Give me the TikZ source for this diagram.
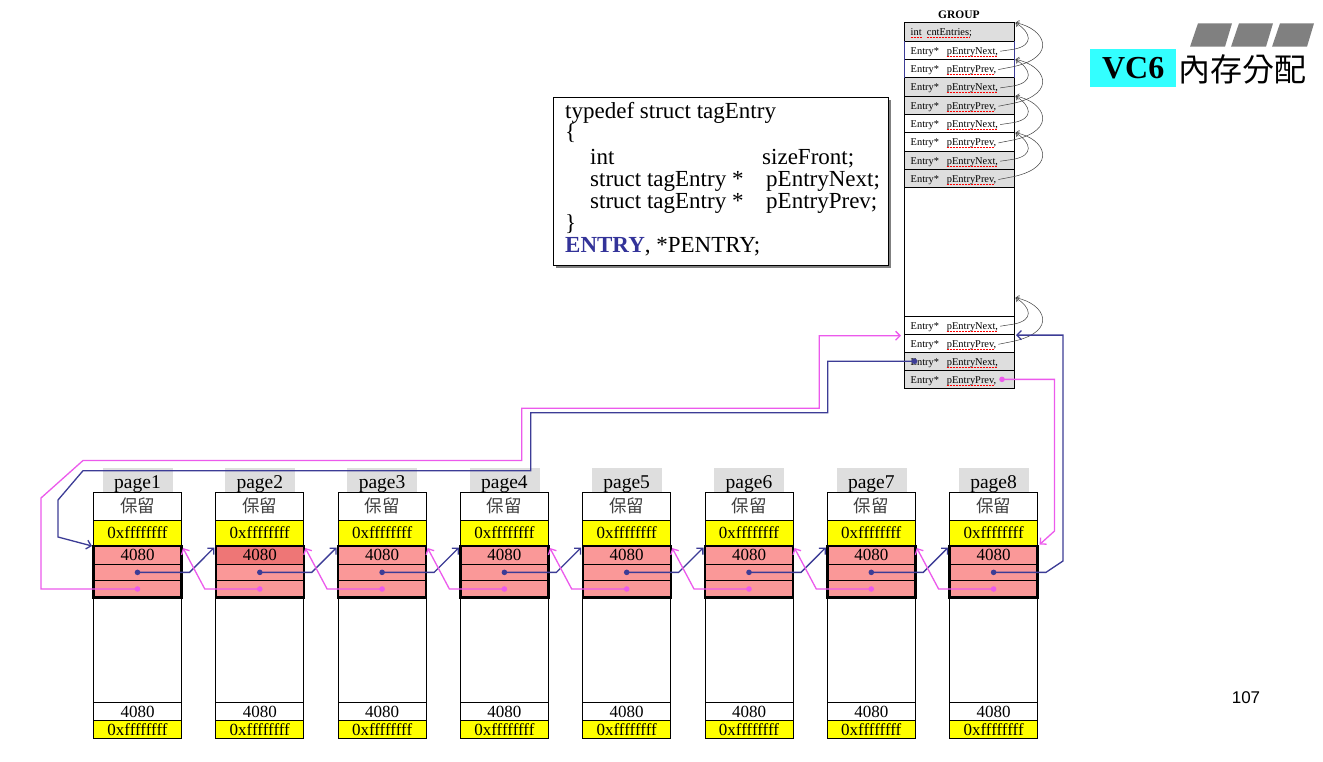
\documentclass[tikz,border=0pt]{standalone}
\usepackage{fontspec}
\setmainfont{Liberation Serif}
\newfontfamily\cjk{Noto Sans CJK TC}
\newfontfamily\sansf{Liberation Sans}
\usetikzlibrary{arrows.meta,calc}
\definecolor{pinkfill}{RGB}{250,152,152}
\definecolor{pinkdark}{RGB}{238,118,118}
\definecolor{yel}{RGB}{255,255,0}
\definecolor{lgray}{RGB}{222,222,222}
\definecolor{lblue}{RGB}{60,60,150}
\definecolor{lpink}{RGB}{236,90,236}
\definecolor{titlecyan}{RGB}{51,255,255}
\definecolor{slab}{RGB}{128,128,128}
\definecolor{wordblue}{RGB}{51,51,153}
\begin{document}
\begin{tikzpicture}[x=1pt,y=-1pt,
  fsz/.style={font=\fontsize{#1}{#1}\selectfont},
  cell/.style={draw=black, line width=0.8pt, minimum width=88pt, inner sep=0pt, outer sep=0pt, anchor=north west},
  grpcell/.style={draw=black, line width=0.8pt, minimum width=110pt, inner sep=0pt, outer sep=0pt, anchor=north west},
  gtxt/.style={inner sep=0pt, anchor=base west, fsz=10.4},
  code/.style={inner sep=0pt, anchor=base west, fsz=23},
  ul/.style={red, densely dotted, line width=0.5pt},
  bluel/.style={draw=lblue, line width=1.3pt},
  pinkl/.style={draw=lpink, line width=1.3pt},
  arrowend/.style={-{Straight Barb[length=4.5pt,width=9pt]}},
  loopc/.style={draw=black!75, line width=0.5pt, -{Straight Barb[length=3pt,width=6pt]}}]
\useasboundingbox (0,0) rectangle (1323,761);
\fill[white] (0,0) rectangle (1323,761);

% ---------- title ----------
\fill[slab] (1190,46.7) -- (1225,46.7) -- (1232,23.3) -- (1198,23.3) -- cycle;
\fill[slab] (1231,46.7) -- (1266,46.7) -- (1273,23.3) -- (1239,23.3) -- cycle;
\fill[slab] (1272,46.7) -- (1307,46.7) -- (1314,23.3) -- (1280,23.3) -- cycle;
\node[fill=titlecyan, minimum width=86pt, minimum height=38.4pt, anchor=north west, inner sep=0pt] (titlebox) at (1090,48.3) {};
\node[font=\bfseries\fontsize{32}{32}\selectfont, inner sep=0pt] (vc6) at (titlebox.center) {VC6};
\node[font={\cjk\fontsize{32}{32}\selectfont}, anchor=west, inner sep=0pt] (ttl) at (1178,69) {內存分配};
\node[font={\sansf\fontsize{17}{17}\selectfont}, inner sep=0pt] (pnum) at (1246,698) {107};

% ---------- code box ----------
\fill[gray] (556,100) rectangle (891,268);
\node[draw, fill=white, line width=1pt, minimum width=335pt, minimum height=168pt, anchor=north west, inner sep=0pt] (codebox) at (553,97) {};
\node[code] (c1) at (565,118.5) {typedef struct tagEntry};
\node[code] (c2) at (565,139) {\{};
\node[code] (c3a) at (590,164) {int};
\node[code] (c3b) at (762,164) {sizeFront;};
\node[code] (c4a) at (590,186) {struct tagEntry *};
\node[code] (c4b) at (766,186) {pEntryNext;};
\node[code] (c5a) at (590,208) {struct tagEntry *};
\node[code] (c5b) at (766,208) {pEntryPrev;};
\node[code] (c6) at (565,230) {\}};
\node[code] (c7) at (565,252) {\textbf{\color{wordblue}ENTRY}, *PENTRY;};

% ---------- GROUP ----------
\node[font=\bfseries\fontsize{11.5}{11.5}\selectfont, inner sep=0pt] (grouplabel) at (959,15) {GROUP};
\foreach \r/\ty/\wa/\wb/\wx/\fl/\hh in {
  1/22.70/int/{cntEntries;}/926.7/lgray/18.33,
  2/41.03/Entry*/{pEntryNext,}/946.7/white/18.33,
  3/59.36/Entry*/{pEntryPrev,}/946.7/white/18.33,
  4/77.69/Entry*/{pEntryNext,}/946.7/lgray/18.33,
  5/96.02/Entry*/{pEntryPrev,}/946.7/lgray/18.33,
  6/114.35/Entry*/{pEntryNext,}/946.7/white/18.33,
  7/132.68/Entry*/{pEntryPrev,}/946.7/white/18.33,
  8/151.01/Entry*/{pEntryNext,}/946.7/lgray/18.33,
  9/169.34/Entry*/{pEntryPrev,}/946.7/lgray/18.33,
  10/316.0/Entry*/{pEntryNext,}/946.7/white/18.1,
  11/334.1/Entry*/{pEntryPrev,}/946.7/white/18.1,
  12/352.2/Entry*/{pEntryNext,}/946.7/lgray/18.1,
  13/370.3/Entry*/{pEntryPrev,}/946.7/lgray/18.1} {
  \node[grpcell, fill=\fl, minimum height=\hh pt] (g\r) at (904,\ty) {};
  \node[gtxt] (ga\r) at (910.5,\ty+13.2) {\wa};
  \node[gtxt] (gb\r) at (\wx,\ty+13.2) {\wb};
  \draw[ul] ([yshift=-1.8pt]gb\r.base west) -- ([yshift=-1.8pt,xshift=-2pt]gb\r.base east);
}
\draw[ul] ([yshift=-1.8pt]ga1.base west) -- ([yshift=-1.8pt]ga1.base east);
\node[draw, line width=0.8pt, minimum width=110pt, minimum height=128.33pt, anchor=north west, inner sep=0pt, outer sep=0pt] (gblank) at (904,187.67) {};
\draw[lblue, line width=1pt] (g2.north west) -- (g3.south west);
\draw[lblue, line width=1pt] (g2.north east) -- (g3.south east);

% self-pointing loops
\foreach \n/\p/\t in {2/3/1, 4/5/3, 6/7/5, 8/9/7} {
  \coordinate (tip\n) at ([xshift=1.5pt]g\t.north east);
  \draw[loopc] ($(gb\n.base east)+(2,-3)$) -- ([yshift=1pt]g\n.east) .. controls +(20,-4) and +(16,10) .. (tip\n);
  \draw[loopc] ($(gb\p.base east)+(2,-3)$) -- ([yshift=2pt]g\p.east) .. controls +(44,-10) and +(30,6) .. (tip\n);
}
\coordinate (btip) at ([xshift=1.5pt,yshift=18.3pt]g10.north east);
\draw[loopc] ($(gb10.base east)+(2,-3)$) -- ([yshift=1pt]g10.east) .. controls +(20,-4) and +(16,10) .. (btip);
\draw[loopc] ($(gb11.base east)+(2,-3)$) -- ([yshift=2pt]g11.east) .. controls +(44,-10) and +(30,6) .. (btip);

% ---------- pages ----------
\foreach \i in {1,...,8} {
  \pgfmathsetmacro\pgx{93.5+(\i-1)*122.3}
  \def\rafill{pinkfill}
  \ifnum\i=2 \def\rafill{pinkdark}\fi
  \node[fill=lgray, minimum width=70pt, minimum height=25.5pt, inner sep=0pt, anchor=north west] (lab\i) at (\pgx+9,467.3) {};
  \node[fsz=19.5, inner sep=0pt, anchor=base] (labt\i) at (\pgx+44,488.5) {page\i};
  \node[cell, minimum height=27.3pt, fsz=17.5, text=darkgray] (res\i) at (\pgx,492.7) {\cjk 保留};
  \node[cell, minimum height=26pt, fill=yel, fsz=17] (ff\i) at (\pgx,520) {0xffffffff};
  \node[cell, minimum height=18pt, fill=\rafill, fsz=17] (ra\i) at (\pgx,546) {4080};
  \node[cell, minimum height=16.7pt, fill=pinkfill] (rb\i) at (\pgx,564) {};
  \node[cell, minimum height=16.6pt, fill=pinkfill] (rc\i) at (\pgx,580.7) {};
  \node[cell, minimum height=105.4pt] (blank\i) at (\pgx,597.3) {};
  \node[cell, minimum height=18pt, fsz=17] (sz\i) at (\pgx,702.7) {4080};
  \node[cell, minimum height=17.6pt, fill=yel, fsz=17] (tail\i) at (\pgx,720.7) {0xffffffff};
  \draw[line width=2.4pt] (ra\i.north west) rectangle (rc\i.south east);
}

% ---------- page links ----------
\foreach \i [evaluate=\i as \j using int(\i+1)] in {1,...,7} {
  \draw[bluel, arrowend] (rb\i.center) -- ([xshift=8pt]rb\i.east) -- ([xshift=-1.5pt,yshift=-1.5pt]ra\j.north west);
  \draw[pinkl, arrowend] (rc\j.center) -- ([xshift=-11pt]rc\j.west) -- ([xshift=1.5pt,yshift=-2pt]ra\i.north east);
}

% ---------- group <-> pages ----------
\coordinate (pinkin) at ([xshift=-3pt,yshift=-1.6pt]g11.north west);
\draw[pinkl, arrowend] (rc1.center) -- (41,589) -- (41,498) -- (83,460.5) -- (521.7,460.5) -- (521.7,408.3) -- (819.3,408.3) |- (pinkin);
\coordinate (bluestart) at ([xshift=10.5pt]g12.west);
\draw[bluel, arrowend] (bluestart) -- (827.7,361.3) -- (827.7,412.7) -- (530.7,412.7) -- (530.7,470.7) -- (83,470.7) -- (58,500) -- (58,537) -- ([xshift=-1.5pt]ra1.north west);
\draw[bluel, arrowend] (rb8.center) -- (1046,572.35) -- (1063,561) -- (1063,335.1) -- ([xshift=2pt,yshift=-1pt]g11.north east);
\coordinate (pinkstart) at ([xshift=-12pt]g13.east);
\draw[pinkl, arrowend] (pinkstart) -- (1054.5,379.35) -- (1054.5,531) -- ([xshift=2pt,yshift=1.5pt]ra8.north east);
\fill[lblue] (bluestart) circle (2.8pt);
\fill[lpink] (pinkstart) circle (2.8pt);

\foreach \i in {1,...,8} {
  \fill[lblue] (rb\i.center) circle (2.8pt);
  \fill[lpink] (rc\i.center) circle (2.8pt);
}
\end{tikzpicture}
\end{document}
